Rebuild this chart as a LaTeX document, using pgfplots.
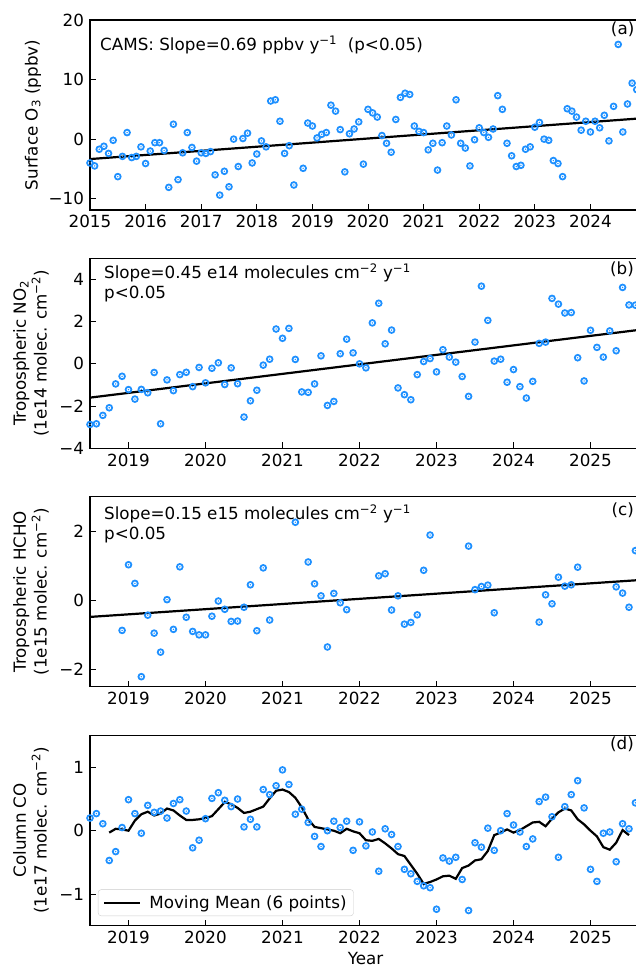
\documentclass[border=0pt]{standalone}
\usepackage{fontspec}
\setmainfont{DejaVu Sans}
\usepackage{pgfplots}
\pgfplotsset{compat=1.18}
\definecolor{dodger}{RGB}{30,144,255}
\pgfdeclareplotmark{ringdot}{%
  \pgfpathcircle{\pgfpointorigin}{\pgfplotmarksize}\pgfusepathqstroke
  \pgfpathcircle{\pgfpointorigin}{0.27\pgfplotmarksize}\pgfusepathqfill}
\newcommand{\fs}{\fontsize{16.8}{21}\selectfont}
\pgfplotsset{
  panel/.style={
    scale only axis, width=551bp, height=190bp, anchor=south west,
    axis line style={line width=1.1bp, black},
    every tick/.style={black, line width=1bp},
    major tick length=6bp, tick align=inside, tick pos=left,
    xticklabel style={font=\fs, yshift=-1.8bp},
    yticklabel style={font=\fs, xshift=-2.5bp},
  },
  pts/.style={only marks, mark=ringdot, mark size=2.9bp,
    mark options={draw=dodger, fill=dodger, line width=1.75bp}},
  trend/.style={black, line width=2.2bp, no marks},
}
\begin{document}
\begin{tikzpicture}
\path[use as bounding box] (0bp,0bp) rectangle (636bp,968bp);

% ---------- (a) ----------
\begin{axis}[panel, at={(90bp,758bp)},
  xmin=0, xmax=118.92, ymin=-11.9, ymax=20,
  xtick={0,12,24,36,48,60,72,84,96,108},
  xticklabels={2015,2016,2017,2018,2019,2020,2021,2022,2023,2024},
  ytick={-10,0,10,20}, yticklabels={−10,0,10,20}]
\addplot[pts] table {
0 -4.0
1 -4.5
2 -1.7
3 -1.2
4 -2.4
5 -0.2
6 -6.3
7 -2.9
8 1.1
9 -3.1
10 -2.9
11 -1.3
12 -4.1
13 -2.0
14 -0.6
15 -0.6
16 -1.9
17 -8.1
18 2.5
19 -6.8
20 -2.3
21 1.1
22 -1.4
23 -3.7
24 -2.3
25 -2.4
26 -2.1
27 -6.0
28 -9.4
29 -5.4
30 -8.0
31 0.0
32 -4.6
33 0.1
34 1.0
35 -4.0
36 -2.5
37 -0.3
38 -1.3
39 6.4
40 6.6
41 3.0
42 -2.4
43 -1.1
44 -7.7
46 -4.9
47 2.7
48 2.2
49 0.2
50 0.8
51 1.1
52 5.7
53 4.7
54 1.6
55 -5.5
56 0.9
57 1.7
58 2.9
59 -4.2
60 5.0
61 4.4
62 3.7
63 0.6
64 -0.7
65 -2.2
66 3.3
67 7.0
68 7.7
69 7.5
70 2.2
71 1.3
72 1.1
73 -1.8
74 -0.7
75 -5.2
76 -0.6
77 2.2
78 0.7
79 6.6
80 -0.7
81 -1.5
82 -4.5
83 -0.1
84 1.9
85 1.1
86 0.3
87 1.7
88 7.3
89 5.0
90 -0.7
91 -2.8
92 -4.6
93 -4.4
94 -1.7
95 -1.3
96 2.0
97 2.8
98 0.0
99 -0.2
100 -3.6
101 -4.1
102 -6.3
103 5.1
104 4.7
105 3.7
106 1.5
107 3.0
108 1.2
109 3.0
110 1.9
111 4.0
112 -0.3
113 5.5
114 15.9
115 1.2
116 5.9
117 9.4
118 8.3
};
\addplot[trend] coordinates {(0,-3.35) (118.92,3.49)};
\end{axis}

% ---------- (b) ----------
\begin{axis}[panel, at={(90bp,519.7bp)},
  xmin=0, xmax=85.87, ymin=-4, ymax=5,
  xtick={6,18,30,42,54,66,78},
  xticklabels={2019,2020,2021,2022,2023,2024,2025},
  ytick={-4,-2,0,2,4}, yticklabels={−4,−2,0,2,4}]
\addplot[pts] table {
0 -2.87
1 -2.84
2 -2.44
3 -2.08
4 -0.95
5 -0.59
6 -1.22
7 -1.67
8 -1.21
9 -1.37
10 -0.41
11 -2.84
12 -0.76
13 -1.27
14 -0.51
15 -0.40
16 -1.08
17 -0.17
18 -0.90
19 -0.21
20 0.05
21 -0.98
22 -0.19
23 -0.94
24 -2.52
25 -1.75
26 -1.25
27 -0.06
28 0.22
29 1.65
30 1.21
31 1.68
32 0.21
33 -1.33
34 -1.35
35 -0.95
36 0.38
37 -1.97
38 -1.78
39 0.48
40 1.17
41 0.52
42 0.00
43 -0.19
44 1.94
45 2.87
46 0.95
47 1.60
48 -1.14
49 -1.46
50 -1.70
51 -0.51
52 0.11
53 0.25
54 -0.38
55 0.67
56 0.32
57 0.08
58 -0.60
59 -1.54
60 1.03
61 3.68
62 2.06
63 0.13
64 0.22
65 -0.87
66 -0.27
67 -1.08
68 -1.62
69 -0.83
70 0.97
71 1.03
72 3.10
73 2.83
74 2.41
75 2.43
76 0.29
77 -0.81
78 1.59
79 0.78
80 0.32
81 1.56
82 0.62
83 3.62
84 2.79
85 2.78
};
\addplot[trend] coordinates {(0,-1.60) (85.87,1.62)};
\end{axis}

% ---------- (c) ----------
\begin{axis}[panel, at={(90bp,281.3bp)},
  xmin=0, xmax=85.87, ymin=-2.5, ymax=3,
  xtick={6,18,30,42,54,66,78},
  xticklabels={2019,2020,2021,2022,2023,2024,2025},
  ytick={-2,0,2}, yticklabels={−2,0,2}]
\addplot[pts] table {
5 -0.87
6 1.03
7 0.49
8 -2.21
9 -0.43
10 -0.95
11 -1.50
12 0.02
13 -0.84
14 0.97
15 -0.49
16 -0.90
17 -1.00
18 -1.00
19 -0.46
20 -0.02
21 -0.26
22 -0.61
23 -0.60
24 -0.20
25 0.45
26 -0.88
27 0.94
28 -0.57
32 2.26
34 1.11
35 0.48
36 0.13
37 -1.35
38 0.20
39 -0.07
40 -0.27
45 0.71
46 0.77
47 -0.28
48 0.13
49 -0.69
50 -0.64
51 -0.42
52 0.87
53 1.89
59 1.57
60 0.31
61 0.40
62 0.44
63 -0.36
70 -0.63
71 0.16
72 -0.10
73 0.67
74 0.41
75 0.45
76 0.96
82 0.39
83 0.21
84 -0.20
85 1.44
};
\addplot[trend] coordinates {(0,-0.48) (85.87,0.59)};
\end{axis}

% ---------- (d) ----------
\begin{axis}[panel, at={(90bp,42.3bp)},
  xmin=0, xmax=85.87, ymin=-1.5, ymax=1.5,
  xtick={6,18,30,42,54,66,78},
  xticklabels={2019,2020,2021,2022,2023,2024,2025},
  ytick={-1,0,1}, yticklabels={−1,0,1},
  legend style={at={(0.0145,0.051)}, anchor=south west, font=\fs,
    draw=black!20, rounded corners=3bp, fill=white, fill opacity=0.8, text opacity=1,
    inner xsep=5bp, inner ysep=4bp,
    /tikz/every odd column/.append style={column sep=6bp}},
  legend cell align=left,
  legend image code/.code={\draw[#1] (0bp,0bp) -- (36bp,0bp);}]
\addplot[pts, forget plot] table {
0 0.20
1 0.27
2 0.11
3 -0.47
4 -0.33
5 0.05
6 0.49
7 0.27
8 -0.04
9 0.40
10 0.29
11 0.31
12 0.20
13 0.43
14 0.49
15 0.31
16 -0.27
17 -0.15
18 0.19
19 0.51
20 0.60
21 0.48
22 0.38
23 0.50
24 0.06
25 0.18
26 0.06
27 0.65
28 0.57
29 0.71
30 0.96
31 0.73
32 0.26
33 0.34
34 0.13
35 -0.09
36 -0.25
37 0.00
38 0.15
39 0.05
40 0.15
41 -0.31
42 0.14
43 -0.24
44 -0.02
45 -0.64
46 0.03
47 -0.06
48 -0.25
49 -0.61
50 -0.68
51 -0.80
52 -0.87
53 -0.90
54 -1.24
55 -0.43
56 -0.48
57 -0.42
58 -0.77
59 -1.26
60 -0.19
61 -0.26
62 0.04
63 -0.31
64 0.00
65 0.27
66 0.09
67 -0.02
68 -0.25
69 -0.13
70 0.46
71 0.53
72 0.22
73 -0.42
74 0.38
75 0.57
76 0.79
77 0.36
78 -0.61
79 -0.80
80 -0.04
81 -0.02
82 -0.49
83 0.11
84 0.03
85 0.44
};
\addplot[trend] table {
3 -0.03
4 0.03
5 0.02
6 0.00
7 0.16
8 0.26
9 0.30
10 0.24
11 0.27
12 0.35
13 0.32
14 0.24
15 0.17
16 0.17
17 0.18
18 0.20
19 0.23
20 0.34
21 0.45
22 0.42
23 0.36
24 0.28
25 0.30
26 0.34
27 0.38
28 0.51
29 0.63
30 0.65
31 0.61
32 0.52
33 0.37
34 0.18
35 0.06
36 0.04
37 0.02
38 0.00
39 -0.04
40 0.03
41 -0.01
42 -0.04
43 -0.15
44 -0.16
45 -0.13
46 -0.20
47 -0.28
48 -0.37
49 -0.40
50 -0.54
51 -0.68
52 -0.84
53 -0.81
54 -0.77
55 -0.72
56 -0.71
57 -0.76
58 -0.59
59 -0.55
60 -0.47
61 -0.45
62 -0.32
63 -0.07
64 -0.03
65 0.02
66 -0.03
67 0.01
68 0.07
69 0.13
70 0.14
71 0.07
72 0.19
73 0.29
74 0.35
75 0.32
76 0.18
77 0.10
78 0.00
79 -0.09
80 -0.26
81 -0.30
82 -0.19
83 0.01
84 -0.07
};
\addlegendentry{Moving Mean (6 points)}
\end{axis}

% ---------- texts ----------
\node[font=\fs, anchor=base west, inner sep=0pt] at (100bp,917bp) {CAMS: Slope=0.69 ppbv y\textsuperscript{−1}\ \ (p<0.05)};
\node[font=\fs, anchor=base east, inner sep=0pt] at (634.5bp,933bp) {(a)};

\node[font=\fs, anchor=base west, inner sep=0pt] at (104bp,689bp) {Slope=0.45 e14 molecules cm\textsuperscript{−2} y\textsuperscript{−1}};
\node[font=\fs, anchor=base west, inner sep=0pt] at (104bp,669bp) {p<0.05};
\node[font=\fs, anchor=base east, inner sep=0pt] at (634bp,693.5bp) {(b)};

\node[font=\fs, anchor=base west, inner sep=0pt] at (104bp,448bp) {Slope=0.15 e15 molecules cm\textsuperscript{−2} y\textsuperscript{−1}};
\node[font=\fs, anchor=base west, inner sep=0pt] at (104bp,428bp) {p<0.05};
\node[font=\fs, anchor=base east, inner sep=0pt] at (634bp,452.5bp) {(c)};

\node[font=\fs, anchor=base east, inner sep=0pt] at (634bp,218.5bp) {(d)};

\node[font=\fs, rotate=90, inner sep=0pt] at (33bp,853bp) {Surface O\textsubscript{3} (ppbv)};
\node[font=\fs, rotate=90, align=center, inner sep=0pt] at (31bp,614.7bp) {Tropospheric NO\textsubscript{2}\\(1e14 molec. cm\textsuperscript{−2})};
\node[font=\fs, rotate=90, align=center, inner sep=0pt] at (31bp,376.3bp) {Tropospheric HCHO\\(1e15 molec. cm\textsuperscript{−2})};
\node[font=\fs, rotate=90, align=center, inner sep=0pt] at (31bp,137.7bp) {Column CO\\(1e17 molec. cm\textsuperscript{−2})};

\node[font=\fs, anchor=base, inner sep=0pt] at (365.5bp,4bp) {Year};
\end{tikzpicture}
\end{document}
